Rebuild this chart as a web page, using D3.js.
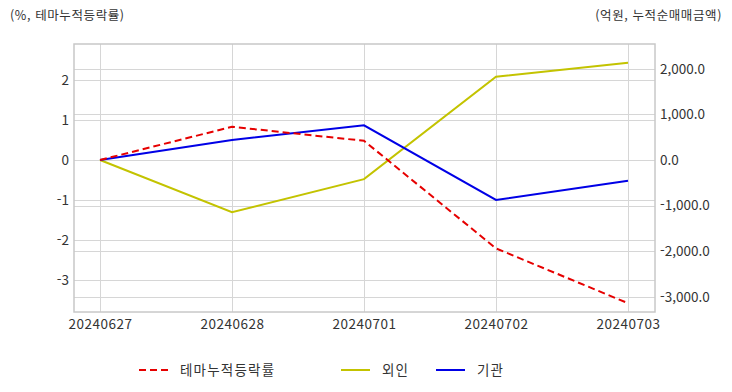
<!DOCTYPE html>
<html lang="ko">
<head>
<meta charset="utf-8" />
<title>테마누적등락률</title>
<script src="https://cdn.jsdelivr.net/npm/d3@7"></script>
<style>
  body { margin: 0; background: #fff; }
  svg text { font-family: "Noto Sans CJK KR", "Noto Sans", sans-serif; fill: #333; font-size: 13.5px; }
  .grid line { stroke: #d6d6d6; stroke-width: 1px; shape-rendering: crispEdges; }
  .frame { fill: none; stroke: #c8c8c8; stroke-width: 1.5px; }
  .series { fill: none; stroke-width: 2px; }
  .axis-title { font-size: 12.5px; letter-spacing: 0.6px; }
  .legend-text { letter-spacing: 1.2px; }
</style>
</head>
<body>
<script>
  var dates = ["20240627", "20240628", "20240701", "20240702", "20240703"];
  var themeRate = [0, 0.83, 0.48, -2.21, -3.58];      // %, left axis
  var foreign = [0, -1147, -420, 1827, 2134];          // 억원, right axis
  var institution = [0, 438, 760, -877, -454];         // 억원, right axis
  var leftTicks = [2, 1, 0, -1, -2, -3];
  var rightTicks = [2000, 1000, 0, -1000, -2000, -3000];

  var w = 732, h = 392;
  var frame = { left: 74, right: 655, top: 44, bottom: 312 };

  var svg = d3.select("body").append("svg")
    .attr("width", w)
    .attr("height", h);

  var xScale = d3.scalePoint()
    .domain(dates)
    .range([100, 628]);

  var yLeft = d3.scaleLinear()
    .domain([-3.8, 2.9])
    .range([frame.bottom, frame.top]);

  var yRight = d3.scaleLinear()
    .domain([-3335, 2544])
    .range([frame.bottom, frame.top]);

  // grid lines
  var grid = svg.append("g").attr("class", "grid");

  grid.selectAll(".vg")
    .data(dates)
    .enter()
    .append("line")
    .attr("x1", function(d) { return xScale(d); })
    .attr("x2", function(d) { return xScale(d); })
    .attr("y1", frame.top)
    .attr("y2", frame.bottom);

  grid.selectAll(".lg")
    .data(leftTicks)
    .enter()
    .append("line")
    .attr("x1", frame.left)
    .attr("x2", frame.right)
    .attr("y1", function(d) { return Math.round(yLeft(d)) + 0.5; })
    .attr("y2", function(d) { return Math.round(yLeft(d)) + 0.5; });

  grid.selectAll(".rg")
    .data(rightTicks)
    .enter()
    .append("line")
    .attr("x1", frame.left)
    .attr("x2", frame.right)
    .attr("y1", function(d) { return Math.round(yRight(d)) + 0.5; })
    .attr("y2", function(d) { return Math.round(yRight(d)) + 0.5; });

  svg.append("rect")
    .attr("class", "frame")
    .attr("x", frame.left)
    .attr("y", frame.top)
    .attr("width", frame.right - frame.left)
    .attr("height", frame.bottom - frame.top);

  // axes (plain hyphen for negatives, like the original)
  var fmtRight = d3.format(",.1f");

  var leftAxis = d3.axisLeft(yLeft)
    .tickValues(leftTicks)
    .tickSize(0)
    .tickPadding(5)
    .tickFormat(function(d) { return String(d); });

  var rightAxis = d3.axisRight(yRight)
    .tickValues(rightTicks)
    .tickSize(0)
    .tickPadding(5)
    .tickFormat(function(d) { return fmtRight(d).replace("\u2212", "-"); });

  var xAxis = d3.axisBottom(xScale)
    .tickSize(0)
    .tickPadding(7);

  svg.append("g")
    .attr("transform", "translate(" + frame.left + ",0)")
    .call(leftAxis);

  svg.append("g")
    .attr("transform", "translate(" + frame.right + ",0)")
    .call(rightAxis);

  var xg = svg.append("g")
    .attr("transform", "translate(0," + frame.bottom + ")")
    .call(xAxis);

  svg.selectAll(".domain").remove();
  svg.selectAll(".tick text")
    .style("font-family", "'Noto Sans CJK KR', 'Noto Sans', sans-serif")
    .style("font-size", "13.5px")
    .attr("fill", "#333");
  xg.selectAll(".tick text").style("letter-spacing", "0.5px");

  // axis titles
  svg.append("text")
    .attr("class", "axis-title")
    .attr("x", 10)
    .attr("y", 20)
    .text("(%, 테마누적등락률)");

  svg.append("text")
    .attr("class", "axis-title")
    .attr("x", 722)
    .attr("y", 20)
    .attr("text-anchor", "end")
    .text("(억원, 누적순매매금액)");

  // series
  var leftLine = d3.line()
    .x(function(d, i) { return xScale(dates[i]); })
    .y(function(d) { return yLeft(d); });

  var rightLine = d3.line()
    .x(function(d, i) { return xScale(dates[i]); })
    .y(function(d) { return yRight(d); });

  svg.append("path")
    .datum(foreign)
    .attr("class", "series")
    .attr("stroke", "#c3c300")
    .attr("d", rightLine);

  svg.append("path")
    .datum(institution)
    .attr("class", "series")
    .attr("stroke", "#0000e6")
    .attr("d", rightLine);

  svg.append("path")
    .datum(themeRate)
    .attr("class", "series")
    .attr("stroke", "#e60000")
    .attr("stroke-dasharray", "7,4")
    .attr("d", leftLine);

  // legend
  var legendItems = [
    { name: "테마누적등락률", color: "#e60000", dash: "7,4", x: 139 },
    { name: "외인", color: "#c3c300", dash: null, x: 341 },
    { name: "기관", color: "#0000e6", dash: null, x: 436 }
  ];

  var legend = svg.selectAll(".legend")
    .data(legendItems)
    .enter()
    .append("g")
    .attr("transform", function(d) { return "translate(" + d.x + ",370)"; });

  legend.append("line")
    .attr("x1", 0)
    .attr("x2", 29)
    .attr("y1", 0)
    .attr("y2", 0)
    .attr("stroke", function(d) { return d.color; })
    .attr("stroke-width", 2)
    .attr("stroke-dasharray", function(d) { return d.dash; });

  legend.append("text")
    .attr("class", "legend-text")
    .attr("x", 41)
    .attr("y", 5)
    .text(function(d) { return d.name; });
</script>
</body>
</html>
